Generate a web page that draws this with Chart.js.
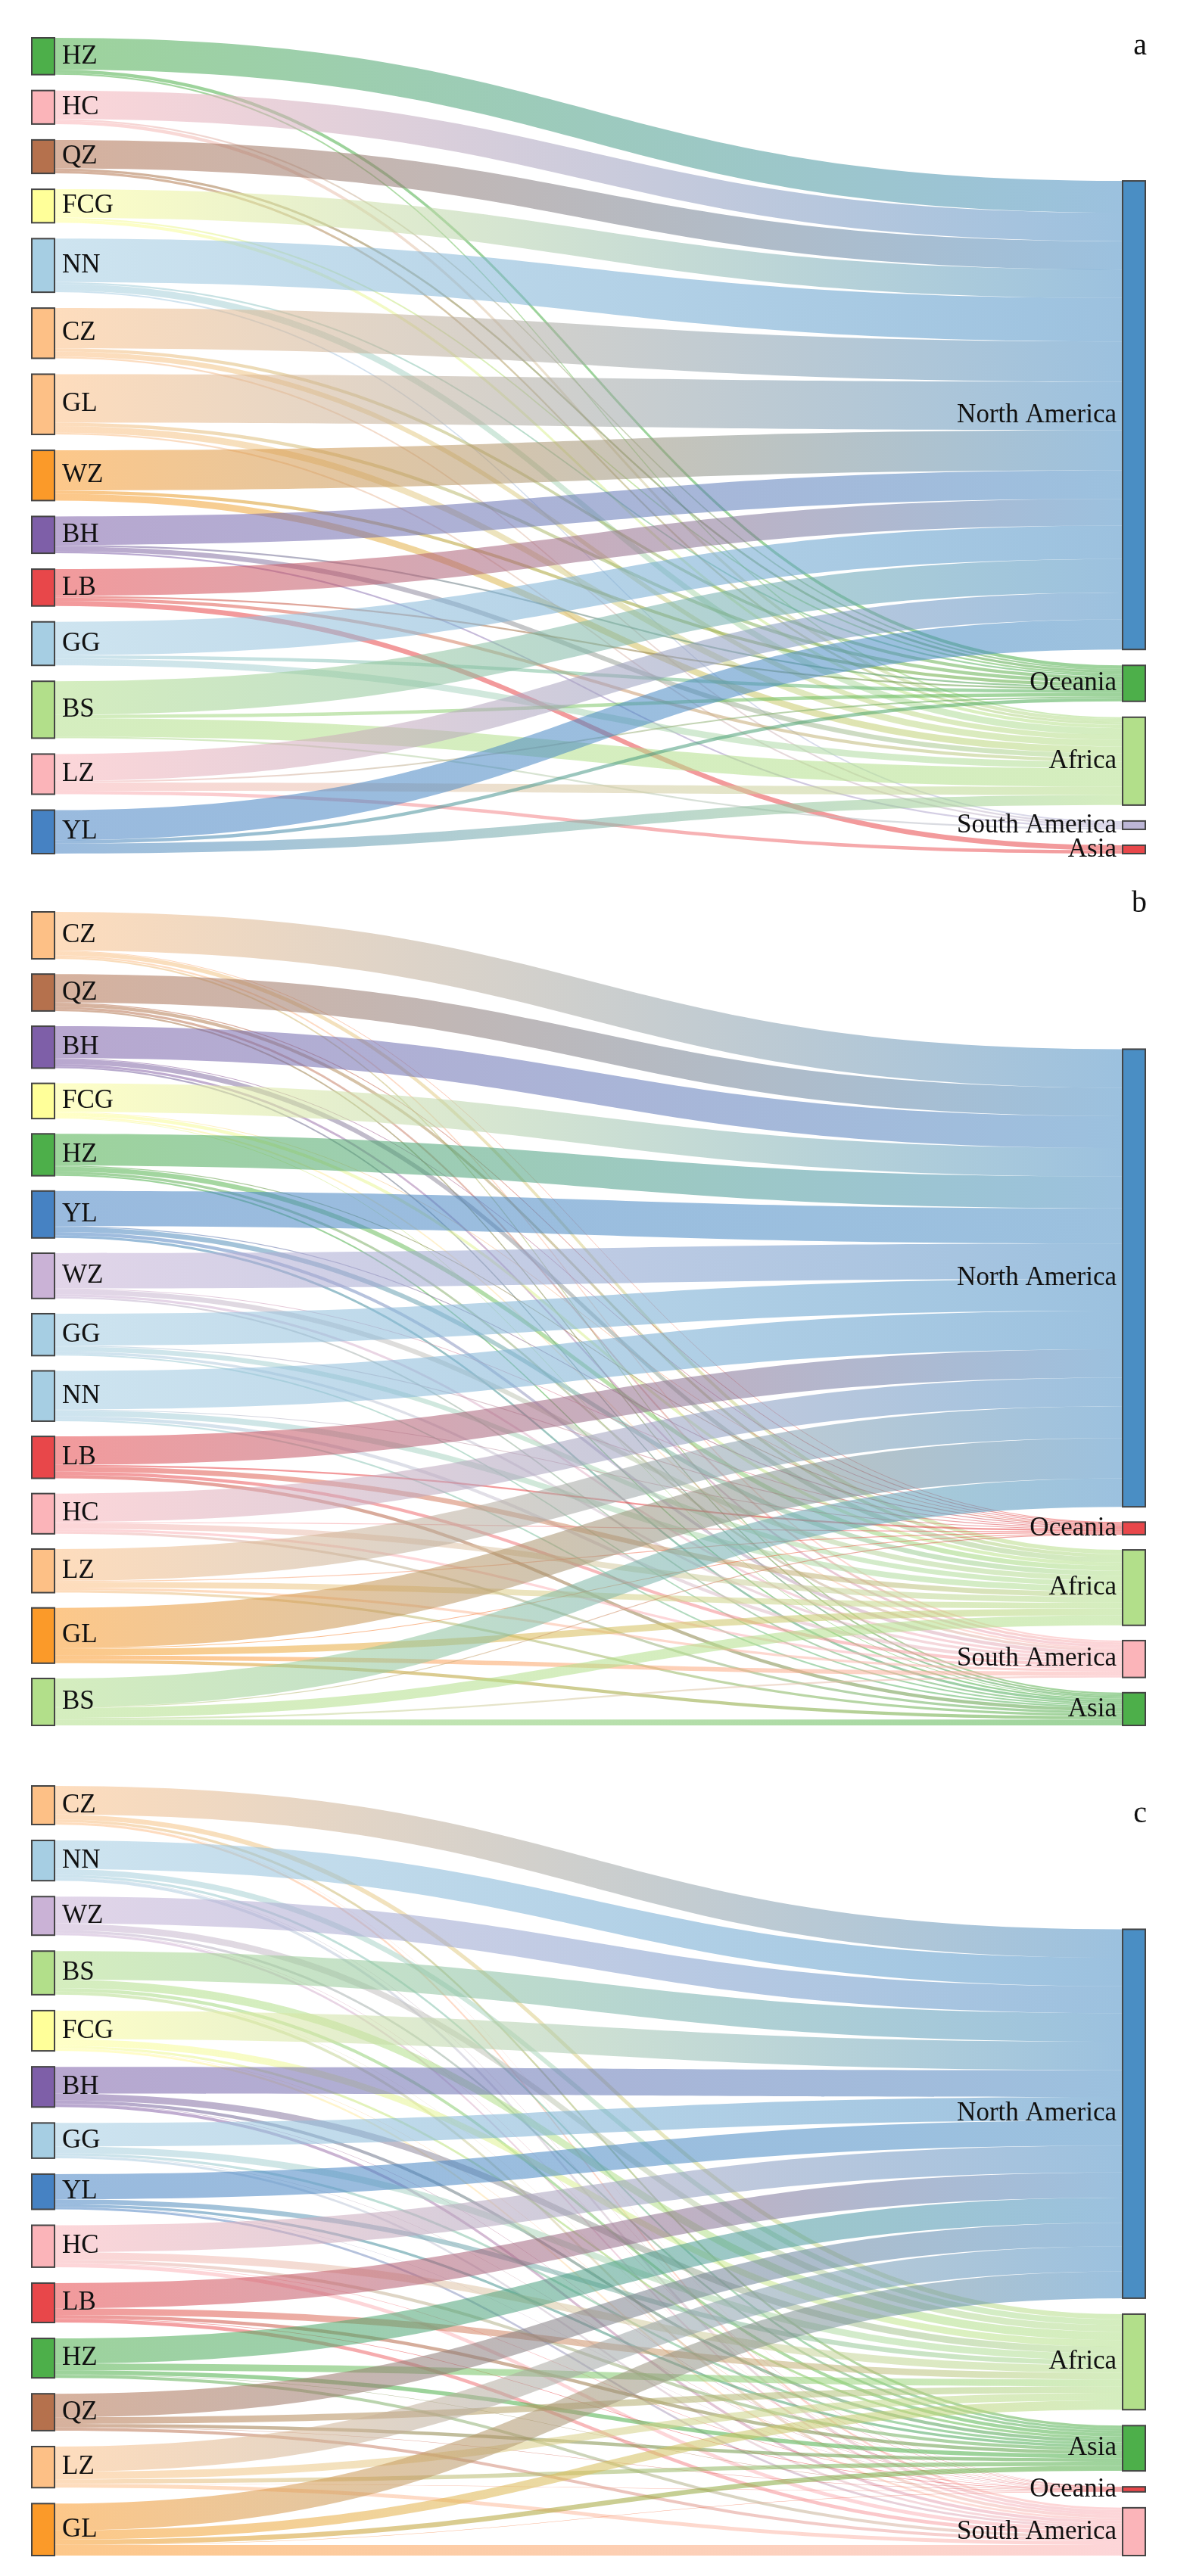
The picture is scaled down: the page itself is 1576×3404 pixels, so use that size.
<!DOCTYPE html>
<html>
<head>
<meta charset="utf-8">
<script src="https://cdn.jsdelivr.net/npm/chart.js@4"></script>
<style>
  body { margin: 0; background: #fff; }
  .panel { position: absolute; left: 0; width: 1576px; }
</style>
</head>
<body>
<div class="panel" style="top:0;height:1150px"><canvas id="chartA"></canvas></div>
<div class="panel" style="top:1150px;height:1150px"><canvas id="chartB"></canvas></div>
<div class="panel" style="top:2300px;height:1104px"><canvas id="chartC"></canvas></div>
<script>
// ---------------- data ----------------
// rows = source cities, columns = targets (in the target order of that panel)
var sourcesA = ["HZ","HC","QZ","FCG","NN","CZ","GL","WZ","BH","LB","GG","BS","LZ","YL"];
var targetsA = ["North America","Oceania","Africa","South America","Asia"];
var flowsA = [
  [19, 2, 1, 0, 0],
  [17, 1, 2, 0, 0],
  [17, 1.5, 1.5, 0, 0],
  [17, 1, 2, 0, 0],
  [26, 1, 4, 1, 0],
  [24, 2, 3, 1, 0],
  [29, 2, 4, 1, 0],
  [24, 2, 4, 0, 0],
  [17, 1, 3, 1, 0],
  [16, 1, 2, 0, 3],
  [20, 2, 4, 0, 0],
  [20, 2, 11, 1, 0],
  [16, 1, 5, 0, 2],
  [18, 2, 6, 0, 0]
];
var srcColorsA = ["#4daf4a","#fbb4b9","#b5714d","#ffff99","#a6cee3","#fdc086","#fdc086","#fb9a29","#7e5fa8","#e8474a","#a6cee3","#b2df8a","#fbb4b9","#4682c3"];
var tgtColorsA = ["#4a8ec4","#4daf4a","#b2df8a","#bcb6d6","#e8474a"];

var sourcesB = ["CZ","QZ","BH","FCG","HZ","YL","WZ","GG","NN","LB","HC","LZ","GL","BS"];
var targetsB = ["North America","Oceania","Africa","South America","Asia"];
var flowsB = [
  [23, 0.5, 2.5, 1, 1],
  [17, 0.5, 2, 1.5, 1],
  [19, 0.5, 3, 1.5, 1],
  [17, 0.5, 2, 1, 0.5],
  [19, 0.5, 3, 1.5, 1],
  [21, 0.5, 3, 2, 1.5],
  [21, 0.5, 3, 1.5, 1],
  [19, 0.5, 3, 1.5, 1],
  [23, 0.5, 3.5, 2, 1],
  [17, 1, 3, 2, 2],
  [17, 0.5, 3.5, 1.5, 1.5],
  [19, 0.5, 3.5, 1.5, 1.5],
  [24, 0.5, 4, 2.5, 2],
  [17, 0.5, 6, 1, 3.5]
];
var srcColorsB = ["#fdc086","#b5714d","#7e5fa8","#ffff99","#4daf4a","#4682c3","#cab2d6","#a6cee3","#a6cee3","#e8474a","#fbb4b9","#fdc086","#fb9a29","#b2df8a"];
var tgtColorsB = ["#4a8ec4","#e8474a","#b2df8a","#fbb4b9","#4daf4a"];

var sourcesC = ["CZ","NN","WZ","BS","FCG","BH","GG","YL","HC","LB","HZ","QZ","LZ","GL"];
var targetsC = ["North America","Africa","Asia","Oceania","South America"];
var flowsC = [
  [17, 3, 1.5, 0.2, 1.3],
  [17, 3.5, 1.5, 0.2, 1.8],
  [16, 4, 1.5, 0.2, 1.3],
  [17, 5, 2, 0.2, 1.8],
  [17, 4, 1.5, 0.2, 1.3],
  [16, 4, 2, 0.2, 1.8],
  [14, 4, 1.5, 0.2, 1.3],
  [15, 3, 1.5, 0.2, 1.3],
  [16, 4.5, 2, 0.3, 2.2],
  [15, 4, 2, 0.3, 2.2],
  [15, 4, 2.5, 0.2, 1.8],
  [14, 4, 2, 0.2, 1.8],
  [15, 4.5, 2.5, 0.2, 2.3],
  [16, 5.5, 3, 0.2, 6.3]
];
var srcColorsC = ["#fdc086","#a6cee3","#cab2d6","#b2df8a","#ffff99","#7e5fa8","#a6cee3","#4682c3","#fbb4b9","#e8474a","#4daf4a","#b5714d","#fdc086","#fb9a29"];
var tgtColorsC = ["#4a8ec4","#b2df8a","#4daf4a","#e8474a","#fbb4b9"];

// ---------------- sankey drawing ----------------
var NODE_W = 0.0204;   // node width in x units (0..1)
var FONT = "35px 'Liberation Serif', 'DejaVu Serif', serif";

function rgba(hex, a) {
  var n = parseInt(hex.slice(1), 16);
  return "rgba(" + (n >> 16) + "," + ((n >> 8) & 255) + "," + (n & 255) + "," + a + ")";
}

function layout(flows, nTargets, gap) {
  var srcTot = flows.map(function (r) { return r.reduce(function (a, b) { return a + b; }, 0); });
  var tgtTot = [];
  for (var j = 0; j < nTargets; j++) {
    tgtTot.push(flows.reduce(function (a, r) { return a + r[j]; }, 0));
  }
  var sumS = srcTot.reduce(function (a, b) { return a + b; }, 0);
  var sumT = tgtTot.reduce(function (a, b) { return a + b; }, 0);
  var maxY = Math.max(sumS + gap * (srcTot.length - 1), sumT + gap * (nTargets - 1));
  var sTop = [], y = 0;
  srcTot.forEach(function (v) { sTop.push(y); y += v + gap; });
  var tTop = [];
  y = maxY - (sumT + gap * (nTargets - 1));   // targets bottom aligned
  tgtTot.forEach(function (v) { tTop.push(y); y += v + gap; });
  return { srcTot: srcTot, tgtTot: tgtTot, sTop: sTop, tTop: tTop, maxY: maxY };
}

var sankeyPlugin = {
  id: "sankey",
  afterDatasetsDraw: function (chart) {
    var o = chart.options.plugins.sankey;
    var L = o.lay, xs = chart.scales.x, ys = chart.scales.y, ctx = chart.ctx;
    var x0 = xs.getPixelForValue(NODE_W), x1 = xs.getPixelForValue(1 - NODE_W);
    var xm = (x0 + x1) / 2;
    var sOff = L.sTop.slice();
    var links = [];
    o.flows.forEach(function (row, i) {
      row.forEach(function (v, j) {
        if (v <= 0) return;
        links.push({ i: i, j: j, s: sOff[i], t: 0, v: v });
        sOff[i] += v;
      });
    });
    // incoming order at targets follows source order
    var tCur = L.tTop.slice();
    links.forEach(function (k) { k.t = tCur[k.j]; tCur[k.j] += k.v; });
    ctx.save();
    links.forEach(function (k) {
      var a0 = ys.getPixelForValue(k.s), a1 = ys.getPixelForValue(k.s + k.v);
      var b0 = ys.getPixelForValue(k.t), b1 = ys.getPixelForValue(k.t + k.v);
      var g = ctx.createLinearGradient(x0, 0, x1, 0);
      g.addColorStop(0, rgba(o.srcColors[k.i], 0.55));
      g.addColorStop(1, rgba(o.tgtColors[k.j], 0.55));
      ctx.fillStyle = g;
      ctx.beginPath();
      ctx.moveTo(x0, a0);
      ctx.bezierCurveTo(xm, a0, xm, b0, x1, b0);
      ctx.lineTo(x1, b1);
      ctx.bezierCurveTo(xm, b1, xm, a1, x0, a1);
      ctx.closePath();
      ctx.fill();
    });
    ctx.lineWidth = 2;
    ctx.strokeStyle = "#444";
    ctx.font = FONT;
    ctx.textBaseline = "middle";
    var xl = xs.getPixelForValue(0), xr = xs.getPixelForValue(1);
    o.sources.forEach(function (name, i) {
      var y0 = ys.getPixelForValue(L.sTop[i]), y1 = ys.getPixelForValue(L.sTop[i] + L.srcTot[i]);
      ctx.fillStyle = o.srcColors[i];
      ctx.fillRect(xl, y0, x0 - xl, y1 - y0);
      ctx.strokeRect(xl, y0, x0 - xl, y1 - y0);
      ctx.fillStyle = "#111";
      ctx.textAlign = "left";
      ctx.fillText(name, x0 + 10, (y0 + y1) / 2);
    });
    o.targets.forEach(function (name, j) {
      var y0 = ys.getPixelForValue(L.tTop[j]), y1 = ys.getPixelForValue(L.tTop[j] + L.tgtTot[j]);
      ctx.fillStyle = o.tgtColors[j];
      ctx.fillRect(x1, y0, xr - x1, y1 - y0);
      ctx.strokeRect(x1, y0, xr - x1, y1 - y0);
      ctx.fillStyle = "#111";
      ctx.textAlign = "right";
      ctx.fillText(name, x1 - 8, (y0 + y1) / 2);
    });
    // panel letter
    ctx.font = "40px 'Liberation Serif', serif";
    ctx.textAlign = "right";
    ctx.textBaseline = "alphabetic";
    ctx.fillText(o.letter, xr + 2, o.letterY);
    ctx.restore();
  }
};

function makeSankey(id, sources, targets, flows, srcColors, tgtColors, gap, pad, letter, letterY) {
  var lay = layout(flows, targets.length, gap);
  new Chart(document.getElementById(id), {
    type: "scatter",
    data: { datasets: [{ data: [] }] },
    plugins: [sankeyPlugin],
    options: {
      responsive: true,
      maintainAspectRatio: false,
      devicePixelRatio: 1,
      animation: false,
      layout: { padding: pad },
      scales: {
        x: { display: false, min: 0, max: 1 },
        y: { display: false, min: 0, max: lay.maxY, reverse: true }
      },
      plugins: {
        legend: { display: false },
        tooltip: { enabled: false },
        sankey: {
          lay: lay, flows: flows, sources: sources, targets: targets,
          srcColors: srcColors, tgtColors: tgtColors, letter: letter, letterY: letterY
        }
      }
    }
  });
}

makeSankey("chartA", sourcesA, targetsA, flowsA, srcColorsA, tgtColorsA, 9.5,
  { left: 42, right: 63, top: 50, bottom: 22 }, "a", 72);
makeSankey("chartB", sourcesB, targetsB, flowsB, srcColorsB, tgtColorsB, 9.1,
  { left: 42, right: 63, top: 55, bottom: 20 }, "b", 55);
makeSankey("chartC", sourcesC, targetsC, flowsC, srcColorsC, tgtColorsC, 9.5,
  { left: 42, right: 63, top: 60, bottom: 27 }, "c", 108);
</script>
</body>
</html>
